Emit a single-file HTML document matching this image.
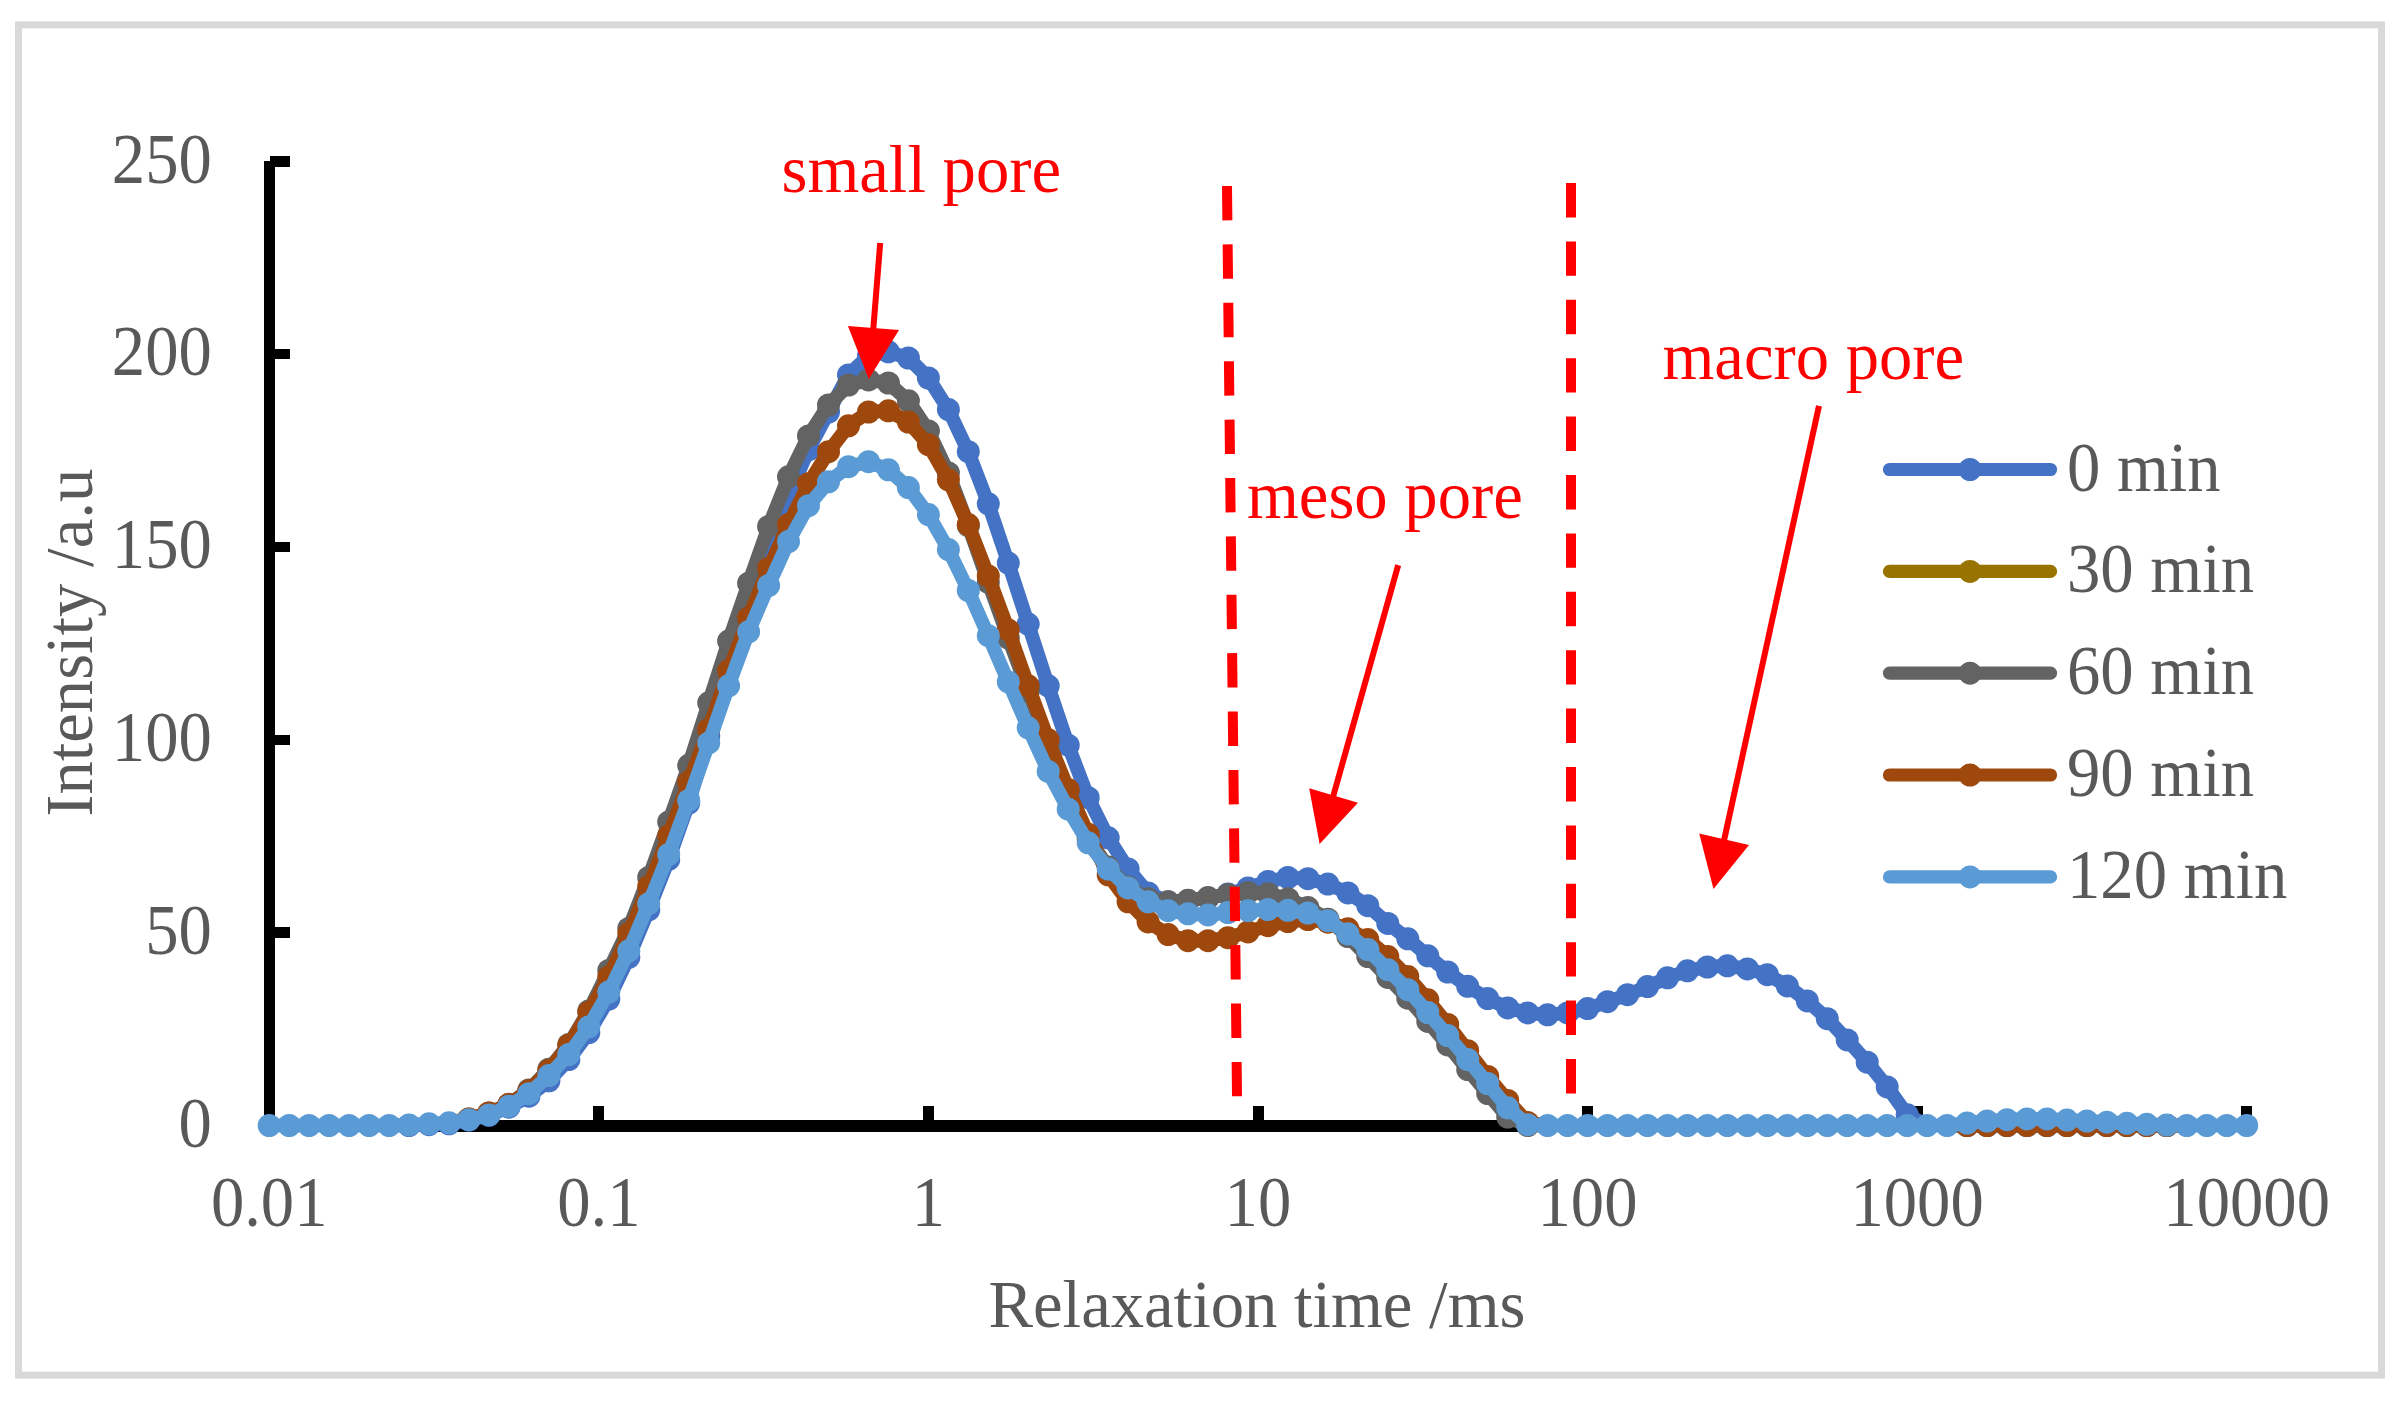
<!DOCTYPE html>
<html lang="en">
<head>
<meta charset="utf-8">
<title>T2 relaxation time distribution</title>
<style>
html,body{margin:0;padding:0;background:#fff;}
body{width:2407px;height:1408px;overflow:hidden;}
svg{display:block;}
text{font-family:"Liberation Serif","Times New Roman",serif;font-size:66.67px;}
.ax{fill:#595959;}
.red{fill:#FF0000;}
</style>
</head>
<body>
<svg width="2407" height="1408" viewBox="0 0 2407 1408">
<rect x="0" y="0" width="2407" height="1408" fill="#ffffff"/>
<rect x="18.5" y="24.9" width="2363" height="1350.2" fill="#ffffff" stroke="#D9D9D9" stroke-width="7"/>

<g fill="#000000" shape-rendering="crispEdges">
<rect x="264" y="161" width="11" height="970.3"/>
<rect x="264" y="1120" width="1982.5" height="11.5"/>
<rect x="269.5" y="1120.2" width="20" height="10.6"/>
<rect x="269.5" y="927.4" width="20" height="10.6"/>
<rect x="269.5" y="734.5" width="20" height="10.6"/>
<rect x="269.5" y="541.6" width="20" height="10.6"/>
<rect x="269.5" y="348.8" width="20" height="10.6"/>
<rect x="269.5" y="155.9" width="20" height="10.6"/>
<rect x="263.8" y="1106" width="11" height="19.5"/>
<rect x="593.4" y="1106" width="11" height="19.5"/>
<rect x="923.0" y="1106" width="11" height="19.5"/>
<rect x="1252.5" y="1106" width="11" height="19.5"/>
<rect x="1582.1" y="1106" width="11" height="19.5"/>
<rect x="1911.7" y="1106" width="11" height="19.5"/>
<rect x="2241.3" y="1106" width="11" height="19.5"/>
</g>
<g class="ax" text-anchor="end">
<text transform="translate(211.8,1146.8) scale(1,1.065)">0</text>
<text transform="translate(211.8,953.9) scale(1,1.065)">50</text>
<text transform="translate(211.8,761.1) scale(1,1.065)">100</text>
<text transform="translate(211.8,568.2) scale(1,1.065)">150</text>
<text transform="translate(211.8,375.4) scale(1,1.065)">200</text>
<text transform="translate(211.8,182.6) scale(1,1.065)">250</text>
</g>
<g class="ax" text-anchor="middle">
<text transform="translate(269.2,1225.7) scale(1,1.065)">0.01</text>
<text transform="translate(598.8,1225.7) scale(1,1.065)">0.1</text>
<text transform="translate(928.4,1225.7) scale(1,1.065)">1</text>
<text transform="translate(1257.9,1225.7) scale(1,1.065)">10</text>
<text transform="translate(1587.5,1225.7) scale(1,1.065)">100</text>
<text transform="translate(1917.1,1225.7) scale(1,1.065)">1000</text>
<text transform="translate(2246.7,1225.7) scale(1,1.065)">10000</text>
<text x="1257" y="1326.7">Relaxation time /ms</text>
<text transform="translate(92.4,642.8) rotate(-90)" x="0" y="0">Intensity /a.u</text>
</g>
<g fill="#4472C4" stroke="none">
<polyline points="389.1,1125.5 409.0,1125.5 429.0,1124.7 449.0,1123.8 468.9,1120.1 488.9,1115.3 508.9,1107.2 528.9,1096.2 548.9,1080.8 568.8,1059.5 588.8,1032.5 608.8,999.0 628.8,957.3 648.7,909.9 668.7,859.4 688.7,803.1 708.7,735.9 728.6,670.4 748.6,604.8 768.6,543.1 788.5,495.7 808.5,449.8 828.5,412.0 848.5,374.9 868.5,356.0 888.4,351.8 908.4,358.0 928.4,378.0 948.4,409.6 968.3,451.7 988.3,503.8 1008.3,563.1 1028.2,624.1 1048.2,685.8 1068.2,745.2 1088.2,797.7 1108.2,837.8 1128.1,869.0 1148.1,892.9 1168.1,901.8 1188.0,900.6 1208.0,897.9 1228.0,894.1 1248.0,887.9 1268.0,881.4 1287.9,877.5 1307.9,878.7 1327.9,884.1 1347.9,892.9 1367.8,905.7 1387.8,923.4 1407.8,938.8 1427.8,955.8 1447.7,972.0 1467.7,986.3 1487.7,998.6 1507.7,1007.9 1527.6,1012.9 1547.6,1014.8 1567.6,1012.9 1587.6,1008.6 1607.5,1001.7 1627.5,994.7 1647.5,986.6 1667.5,977.8 1687.4,970.8 1707.4,967.0 1727.4,965.8 1747.4,968.9 1767.3,974.7 1787.3,985.9 1807.3,1000.9 1827.3,1018.7 1847.2,1039.9 1867.2,1062.2 1887.2,1086.9 1907.2,1114.7 1927.1,1125.5" fill="none" stroke="#4472C4" stroke-width="13.9" stroke-linejoin="round" stroke-linecap="round"/>
<polyline points="1947.1,1125.5 1967.1,1125.5 1987.1,1125.5 2007.0,1125.5 2027.0,1125.5 2047.0,1125.5 2067.0,1125.5 2086.9,1125.5 2106.9,1125.5 2126.9,1125.5 2146.8,1125.5 2166.8,1125.5 2186.8,1125.5" fill="none" stroke="#4472C4" stroke-width="13.9" stroke-linejoin="round" stroke-linecap="round"/>
<circle cx="409.0" cy="1125.5" r="11.5"/>
<circle cx="429.0" cy="1124.7" r="11.5"/>
<circle cx="449.0" cy="1123.8" r="11.5"/>
<circle cx="468.9" cy="1120.1" r="11.5"/>
<circle cx="488.9" cy="1115.3" r="11.5"/>
<circle cx="508.9" cy="1107.2" r="11.5"/>
<circle cx="528.9" cy="1096.2" r="11.5"/>
<circle cx="548.9" cy="1080.8" r="11.5"/>
<circle cx="568.8" cy="1059.5" r="11.5"/>
<circle cx="588.8" cy="1032.5" r="11.5"/>
<circle cx="608.8" cy="999.0" r="11.5"/>
<circle cx="628.8" cy="957.3" r="11.5"/>
<circle cx="648.7" cy="909.9" r="11.5"/>
<circle cx="668.7" cy="859.4" r="11.5"/>
<circle cx="688.7" cy="803.1" r="11.5"/>
<circle cx="708.7" cy="735.9" r="11.5"/>
<circle cx="728.6" cy="670.4" r="11.5"/>
<circle cx="748.6" cy="604.8" r="11.5"/>
<circle cx="768.6" cy="543.1" r="11.5"/>
<circle cx="788.5" cy="495.7" r="11.5"/>
<circle cx="808.5" cy="449.8" r="11.5"/>
<circle cx="828.5" cy="412.0" r="11.5"/>
<circle cx="848.5" cy="374.9" r="11.5"/>
<circle cx="868.5" cy="356.0" r="11.5"/>
<circle cx="888.4" cy="351.8" r="11.5"/>
<circle cx="908.4" cy="358.0" r="11.5"/>
<circle cx="928.4" cy="378.0" r="11.5"/>
<circle cx="948.4" cy="409.6" r="11.5"/>
<circle cx="968.3" cy="451.7" r="11.5"/>
<circle cx="988.3" cy="503.8" r="11.5"/>
<circle cx="1008.3" cy="563.1" r="11.5"/>
<circle cx="1028.2" cy="624.1" r="11.5"/>
<circle cx="1048.2" cy="685.8" r="11.5"/>
<circle cx="1068.2" cy="745.2" r="11.5"/>
<circle cx="1088.2" cy="797.7" r="11.5"/>
<circle cx="1108.2" cy="837.8" r="11.5"/>
<circle cx="1128.1" cy="869.0" r="11.5"/>
<circle cx="1148.1" cy="892.9" r="11.5"/>
<circle cx="1168.1" cy="901.8" r="11.5"/>
<circle cx="1188.0" cy="900.6" r="11.5"/>
<circle cx="1208.0" cy="897.9" r="11.5"/>
<circle cx="1228.0" cy="894.1" r="11.5"/>
<circle cx="1248.0" cy="887.9" r="11.5"/>
<circle cx="1268.0" cy="881.4" r="11.5"/>
<circle cx="1287.9" cy="877.5" r="11.5"/>
<circle cx="1307.9" cy="878.7" r="11.5"/>
<circle cx="1327.9" cy="884.1" r="11.5"/>
<circle cx="1347.9" cy="892.9" r="11.5"/>
<circle cx="1367.8" cy="905.7" r="11.5"/>
<circle cx="1387.8" cy="923.4" r="11.5"/>
<circle cx="1407.8" cy="938.8" r="11.5"/>
<circle cx="1427.8" cy="955.8" r="11.5"/>
<circle cx="1447.7" cy="972.0" r="11.5"/>
<circle cx="1467.7" cy="986.3" r="11.5"/>
<circle cx="1487.7" cy="998.6" r="11.5"/>
<circle cx="1507.7" cy="1007.9" r="11.5"/>
<circle cx="1527.6" cy="1012.9" r="11.5"/>
<circle cx="1547.6" cy="1014.8" r="11.5"/>
<circle cx="1567.6" cy="1012.9" r="11.5"/>
<circle cx="1587.6" cy="1008.6" r="11.5"/>
<circle cx="1607.5" cy="1001.7" r="11.5"/>
<circle cx="1627.5" cy="994.7" r="11.5"/>
<circle cx="1647.5" cy="986.6" r="11.5"/>
<circle cx="1667.5" cy="977.8" r="11.5"/>
<circle cx="1687.4" cy="970.8" r="11.5"/>
<circle cx="1707.4" cy="967.0" r="11.5"/>
<circle cx="1727.4" cy="965.8" r="11.5"/>
<circle cx="1747.4" cy="968.9" r="11.5"/>
<circle cx="1767.3" cy="974.7" r="11.5"/>
<circle cx="1787.3" cy="985.9" r="11.5"/>
<circle cx="1807.3" cy="1000.9" r="11.5"/>
<circle cx="1827.3" cy="1018.7" r="11.5"/>
<circle cx="1847.2" cy="1039.9" r="11.5"/>
<circle cx="1867.2" cy="1062.2" r="11.5"/>
<circle cx="1887.2" cy="1086.9" r="11.5"/>
<circle cx="1907.2" cy="1114.7" r="11.5"/>
<circle cx="1967.1" cy="1125.5" r="11.5"/>
<circle cx="1987.1" cy="1125.5" r="11.5"/>
<circle cx="2007.0" cy="1125.5" r="11.5"/>
<circle cx="2027.0" cy="1125.5" r="11.5"/>
<circle cx="2047.0" cy="1125.5" r="11.5"/>
<circle cx="2067.0" cy="1125.5" r="11.5"/>
<circle cx="2086.9" cy="1125.5" r="11.5"/>
<circle cx="2106.9" cy="1125.5" r="11.5"/>
<circle cx="2126.9" cy="1125.5" r="11.5"/>
<circle cx="2146.8" cy="1125.5" r="11.5"/>
<circle cx="2166.8" cy="1125.5" r="11.5"/>
</g>
<g fill="#997300" stroke="none">
<polyline points="449.0,1122.6 468.9,1118.9 488.9,1113.0 508.9,1104.3 528.9,1090.0 548.9,1069.2 568.8,1044.5 588.8,1010.9 608.8,970.4 628.8,928.4 648.7,877.5 668.7,822.0 688.7,765.3 708.7,702.8 728.6,641.1 748.6,583.2 768.6,526.5 788.5,476.8 808.5,435.9 828.5,405.0 848.5,385.0 868.5,379.9 888.4,383.0 908.4,400.8 928.4,430.9 948.4,472.9 968.3,525.7 988.3,582.4 1008.3,638.0 1028.2,691.6 1048.2,743.7 1068.2,791.9 1088.2,838.2 1108.2,867.1 1128.1,887.1 1148.1,898.7 1168.1,901.8 1188.0,900.3 1208.0,897.6 1228.0,894.5 1248.0,892.5 1268.0,893.7 1287.9,898.7 1307.9,907.6 1327.9,919.2 1347.9,936.5 1367.8,956.6 1387.8,977.4 1407.8,998.2 1427.8,1021.4 1447.7,1044.9 1467.7,1069.6 1487.7,1093.5 1507.7,1117.0 1527.6,1125.5 1547.6,1125.5" fill="none" stroke="#997300" stroke-width="10.9" stroke-linejoin="round" stroke-linecap="round"/>
<polyline points="1947.1,1125.5 1967.1,1125.5 1987.1,1125.5 2007.0,1125.5 2027.0,1125.5 2047.0,1125.5 2067.0,1125.5 2086.9,1125.5 2106.9,1125.5 2126.9,1125.5 2146.8,1125.5 2166.8,1125.5 2186.8,1125.5" fill="none" stroke="#997300" stroke-width="10.9" stroke-linejoin="round" stroke-linecap="round"/>
<circle cx="468.9" cy="1118.9" r="9.9"/>
<circle cx="488.9" cy="1113.0" r="9.9"/>
<circle cx="508.9" cy="1104.3" r="9.9"/>
<circle cx="528.9" cy="1090.0" r="9.9"/>
<circle cx="548.9" cy="1069.2" r="9.9"/>
<circle cx="568.8" cy="1044.5" r="9.9"/>
<circle cx="588.8" cy="1010.9" r="9.9"/>
<circle cx="608.8" cy="970.4" r="9.9"/>
<circle cx="628.8" cy="928.4" r="9.9"/>
<circle cx="648.7" cy="877.5" r="9.9"/>
<circle cx="668.7" cy="822.0" r="9.9"/>
<circle cx="688.7" cy="765.3" r="9.9"/>
<circle cx="708.7" cy="702.8" r="9.9"/>
<circle cx="728.6" cy="641.1" r="9.9"/>
<circle cx="748.6" cy="583.2" r="9.9"/>
<circle cx="768.6" cy="526.5" r="9.9"/>
<circle cx="788.5" cy="476.8" r="9.9"/>
<circle cx="808.5" cy="435.9" r="9.9"/>
<circle cx="828.5" cy="405.0" r="9.9"/>
<circle cx="848.5" cy="385.0" r="9.9"/>
<circle cx="868.5" cy="379.9" r="9.9"/>
<circle cx="888.4" cy="383.0" r="9.9"/>
<circle cx="908.4" cy="400.8" r="9.9"/>
<circle cx="928.4" cy="430.9" r="9.9"/>
<circle cx="948.4" cy="472.9" r="9.9"/>
<circle cx="968.3" cy="525.7" r="9.9"/>
<circle cx="988.3" cy="582.4" r="9.9"/>
<circle cx="1008.3" cy="638.0" r="9.9"/>
<circle cx="1028.2" cy="691.6" r="9.9"/>
<circle cx="1048.2" cy="743.7" r="9.9"/>
<circle cx="1068.2" cy="791.9" r="9.9"/>
<circle cx="1088.2" cy="838.2" r="9.9"/>
<circle cx="1108.2" cy="867.1" r="9.9"/>
<circle cx="1128.1" cy="887.1" r="9.9"/>
<circle cx="1148.1" cy="898.7" r="9.9"/>
<circle cx="1168.1" cy="901.8" r="9.9"/>
<circle cx="1188.0" cy="900.3" r="9.9"/>
<circle cx="1208.0" cy="897.6" r="9.9"/>
<circle cx="1228.0" cy="894.5" r="9.9"/>
<circle cx="1248.0" cy="892.5" r="9.9"/>
<circle cx="1268.0" cy="893.7" r="9.9"/>
<circle cx="1287.9" cy="898.7" r="9.9"/>
<circle cx="1307.9" cy="907.6" r="9.9"/>
<circle cx="1327.9" cy="919.2" r="9.9"/>
<circle cx="1347.9" cy="936.5" r="9.9"/>
<circle cx="1367.8" cy="956.6" r="9.9"/>
<circle cx="1387.8" cy="977.4" r="9.9"/>
<circle cx="1407.8" cy="998.2" r="9.9"/>
<circle cx="1427.8" cy="1021.4" r="9.9"/>
<circle cx="1447.7" cy="1044.9" r="9.9"/>
<circle cx="1467.7" cy="1069.6" r="9.9"/>
<circle cx="1487.7" cy="1093.5" r="9.9"/>
<circle cx="1507.7" cy="1117.0" r="9.9"/>
<circle cx="1527.6" cy="1125.5" r="9.9"/>
<circle cx="1967.1" cy="1125.5" r="9.9"/>
<circle cx="1987.1" cy="1125.5" r="9.9"/>
<circle cx="2007.0" cy="1125.5" r="9.9"/>
<circle cx="2027.0" cy="1125.5" r="9.9"/>
<circle cx="2047.0" cy="1125.5" r="9.9"/>
<circle cx="2067.0" cy="1125.5" r="9.9"/>
<circle cx="2086.9" cy="1125.5" r="9.9"/>
<circle cx="2106.9" cy="1125.5" r="9.9"/>
<circle cx="2126.9" cy="1125.5" r="9.9"/>
<circle cx="2146.8" cy="1125.5" r="9.9"/>
<circle cx="2166.8" cy="1125.5" r="9.9"/>
</g>
<g fill="#636363" stroke="none">
<polyline points="449.0,1122.6 468.9,1118.9 488.9,1113.0 508.9,1104.3 528.9,1090.0 548.9,1069.2 568.8,1044.5 588.8,1010.9 608.8,970.4 628.8,928.4 648.7,877.5 668.7,822.0 688.7,765.3 708.7,702.8 728.6,641.1 748.6,583.2 768.6,526.5 788.5,476.8 808.5,435.9 828.5,405.0 848.5,385.0 868.5,379.9 888.4,383.0 908.4,400.8 928.4,430.9 948.4,472.9 968.3,525.7 988.3,582.4 1008.3,638.0 1028.2,691.6 1048.2,743.7 1068.2,791.9 1088.2,838.2 1108.2,867.1 1128.1,887.1 1148.1,898.7 1168.1,901.8 1188.0,900.3 1208.0,897.6 1228.0,894.5 1248.0,892.5 1268.0,893.7 1287.9,898.7 1307.9,907.6 1327.9,919.2 1347.9,936.5 1367.8,956.6 1387.8,977.4 1407.8,998.2 1427.8,1021.4 1447.7,1044.9 1467.7,1069.6 1487.7,1093.5 1507.7,1117.0 1527.6,1125.5 1547.6,1125.5" fill="none" stroke="#636363" stroke-width="13.9" stroke-linejoin="round" stroke-linecap="round"/>
<polyline points="1947.1,1125.5 1967.1,1125.5 1987.1,1125.5 2007.0,1125.5 2027.0,1125.5 2047.0,1125.5 2067.0,1125.5 2086.9,1125.5 2106.9,1125.5 2126.9,1125.5 2146.8,1125.5 2166.8,1125.5 2186.8,1125.5" fill="none" stroke="#636363" stroke-width="13.9" stroke-linejoin="round" stroke-linecap="round"/>
<circle cx="468.9" cy="1118.9" r="11.5"/>
<circle cx="488.9" cy="1113.0" r="11.5"/>
<circle cx="508.9" cy="1104.3" r="11.5"/>
<circle cx="528.9" cy="1090.0" r="11.5"/>
<circle cx="548.9" cy="1069.2" r="11.5"/>
<circle cx="568.8" cy="1044.5" r="11.5"/>
<circle cx="588.8" cy="1010.9" r="11.5"/>
<circle cx="608.8" cy="970.4" r="11.5"/>
<circle cx="628.8" cy="928.4" r="11.5"/>
<circle cx="648.7" cy="877.5" r="11.5"/>
<circle cx="668.7" cy="822.0" r="11.5"/>
<circle cx="688.7" cy="765.3" r="11.5"/>
<circle cx="708.7" cy="702.8" r="11.5"/>
<circle cx="728.6" cy="641.1" r="11.5"/>
<circle cx="748.6" cy="583.2" r="11.5"/>
<circle cx="768.6" cy="526.5" r="11.5"/>
<circle cx="788.5" cy="476.8" r="11.5"/>
<circle cx="808.5" cy="435.9" r="11.5"/>
<circle cx="828.5" cy="405.0" r="11.5"/>
<circle cx="848.5" cy="385.0" r="11.5"/>
<circle cx="868.5" cy="379.9" r="11.5"/>
<circle cx="888.4" cy="383.0" r="11.5"/>
<circle cx="908.4" cy="400.8" r="11.5"/>
<circle cx="928.4" cy="430.9" r="11.5"/>
<circle cx="948.4" cy="472.9" r="11.5"/>
<circle cx="968.3" cy="525.7" r="11.5"/>
<circle cx="988.3" cy="582.4" r="11.5"/>
<circle cx="1008.3" cy="638.0" r="11.5"/>
<circle cx="1028.2" cy="691.6" r="11.5"/>
<circle cx="1048.2" cy="743.7" r="11.5"/>
<circle cx="1068.2" cy="791.9" r="11.5"/>
<circle cx="1088.2" cy="838.2" r="11.5"/>
<circle cx="1108.2" cy="867.1" r="11.5"/>
<circle cx="1128.1" cy="887.1" r="11.5"/>
<circle cx="1148.1" cy="898.7" r="11.5"/>
<circle cx="1168.1" cy="901.8" r="11.5"/>
<circle cx="1188.0" cy="900.3" r="11.5"/>
<circle cx="1208.0" cy="897.6" r="11.5"/>
<circle cx="1228.0" cy="894.5" r="11.5"/>
<circle cx="1248.0" cy="892.5" r="11.5"/>
<circle cx="1268.0" cy="893.7" r="11.5"/>
<circle cx="1287.9" cy="898.7" r="11.5"/>
<circle cx="1307.9" cy="907.6" r="11.5"/>
<circle cx="1327.9" cy="919.2" r="11.5"/>
<circle cx="1347.9" cy="936.5" r="11.5"/>
<circle cx="1367.8" cy="956.6" r="11.5"/>
<circle cx="1387.8" cy="977.4" r="11.5"/>
<circle cx="1407.8" cy="998.2" r="11.5"/>
<circle cx="1427.8" cy="1021.4" r="11.5"/>
<circle cx="1447.7" cy="1044.9" r="11.5"/>
<circle cx="1467.7" cy="1069.6" r="11.5"/>
<circle cx="1487.7" cy="1093.5" r="11.5"/>
<circle cx="1507.7" cy="1117.0" r="11.5"/>
<circle cx="1527.6" cy="1125.5" r="11.5"/>
<circle cx="1967.1" cy="1125.5" r="11.5"/>
<circle cx="1987.1" cy="1125.5" r="11.5"/>
<circle cx="2007.0" cy="1125.5" r="11.5"/>
<circle cx="2027.0" cy="1125.5" r="11.5"/>
<circle cx="2047.0" cy="1125.5" r="11.5"/>
<circle cx="2067.0" cy="1125.5" r="11.5"/>
<circle cx="2086.9" cy="1125.5" r="11.5"/>
<circle cx="2106.9" cy="1125.5" r="11.5"/>
<circle cx="2126.9" cy="1125.5" r="11.5"/>
<circle cx="2146.8" cy="1125.5" r="11.5"/>
<circle cx="2166.8" cy="1125.5" r="11.5"/>
</g>
<g fill="#9E480E" stroke="none">
<polyline points="449.0,1122.6 468.9,1118.9 488.9,1113.0 508.9,1104.5 528.9,1090.8 548.9,1070.3 568.8,1045.3 588.8,1012.5 608.8,977.0 628.8,933.8 648.7,886.4 668.7,835.8 688.7,782.2 708.7,729.4 728.6,670.8 748.6,617.9 768.6,568.5 788.5,524.6 808.5,483.7 828.5,451.7 848.5,425.8 868.5,412.0 888.4,410.8 908.4,422.0 928.4,444.7 948.4,479.8 968.3,524.6 988.3,575.9 1008.3,629.9 1028.2,685.8 1048.2,739.8 1068.2,789.6 1088.2,834.3 1108.2,874.8 1128.1,901.8 1148.1,921.9 1168.1,934.6 1188.0,940.7 1208.0,940.7 1228.0,937.7 1248.0,931.9 1268.0,925.7 1287.9,921.5 1307.9,919.5 1327.9,922.2 1347.9,928.8 1367.8,939.6 1387.8,956.6 1407.8,976.6 1427.8,999.8 1447.7,1024.4 1467.7,1050.7 1487.7,1076.5 1507.7,1100.4 1527.6,1122.4 1547.6,1125.5" fill="none" stroke="#9E480E" stroke-width="13.9" stroke-linejoin="round" stroke-linecap="round"/>
<polyline points="1947.1,1125.5 1967.1,1125.5 1987.1,1125.5 2007.0,1125.5 2027.0,1125.5 2047.0,1125.5 2067.0,1125.5 2086.9,1125.5 2106.9,1125.5 2126.9,1125.5 2146.8,1125.5 2166.8,1125.5 2186.8,1125.5" fill="none" stroke="#9E480E" stroke-width="13.9" stroke-linejoin="round" stroke-linecap="round"/>
<circle cx="468.9" cy="1118.9" r="11.5"/>
<circle cx="488.9" cy="1113.0" r="11.5"/>
<circle cx="508.9" cy="1104.5" r="11.5"/>
<circle cx="528.9" cy="1090.8" r="11.5"/>
<circle cx="548.9" cy="1070.3" r="11.5"/>
<circle cx="568.8" cy="1045.3" r="11.5"/>
<circle cx="588.8" cy="1012.5" r="11.5"/>
<circle cx="608.8" cy="977.0" r="11.5"/>
<circle cx="628.8" cy="933.8" r="11.5"/>
<circle cx="648.7" cy="886.4" r="11.5"/>
<circle cx="668.7" cy="835.8" r="11.5"/>
<circle cx="688.7" cy="782.2" r="11.5"/>
<circle cx="708.7" cy="729.4" r="11.5"/>
<circle cx="728.6" cy="670.8" r="11.5"/>
<circle cx="748.6" cy="617.9" r="11.5"/>
<circle cx="768.6" cy="568.5" r="11.5"/>
<circle cx="788.5" cy="524.6" r="11.5"/>
<circle cx="808.5" cy="483.7" r="11.5"/>
<circle cx="828.5" cy="451.7" r="11.5"/>
<circle cx="848.5" cy="425.8" r="11.5"/>
<circle cx="868.5" cy="412.0" r="11.5"/>
<circle cx="888.4" cy="410.8" r="11.5"/>
<circle cx="908.4" cy="422.0" r="11.5"/>
<circle cx="928.4" cy="444.7" r="11.5"/>
<circle cx="948.4" cy="479.8" r="11.5"/>
<circle cx="968.3" cy="524.6" r="11.5"/>
<circle cx="988.3" cy="575.9" r="11.5"/>
<circle cx="1008.3" cy="629.9" r="11.5"/>
<circle cx="1028.2" cy="685.8" r="11.5"/>
<circle cx="1048.2" cy="739.8" r="11.5"/>
<circle cx="1068.2" cy="789.6" r="11.5"/>
<circle cx="1088.2" cy="834.3" r="11.5"/>
<circle cx="1108.2" cy="874.8" r="11.5"/>
<circle cx="1128.1" cy="901.8" r="11.5"/>
<circle cx="1148.1" cy="921.9" r="11.5"/>
<circle cx="1168.1" cy="934.6" r="11.5"/>
<circle cx="1188.0" cy="940.7" r="11.5"/>
<circle cx="1208.0" cy="940.7" r="11.5"/>
<circle cx="1228.0" cy="937.7" r="11.5"/>
<circle cx="1248.0" cy="931.9" r="11.5"/>
<circle cx="1268.0" cy="925.7" r="11.5"/>
<circle cx="1287.9" cy="921.5" r="11.5"/>
<circle cx="1307.9" cy="919.5" r="11.5"/>
<circle cx="1327.9" cy="922.2" r="11.5"/>
<circle cx="1347.9" cy="928.8" r="11.5"/>
<circle cx="1367.8" cy="939.6" r="11.5"/>
<circle cx="1387.8" cy="956.6" r="11.5"/>
<circle cx="1407.8" cy="976.6" r="11.5"/>
<circle cx="1427.8" cy="999.8" r="11.5"/>
<circle cx="1447.7" cy="1024.4" r="11.5"/>
<circle cx="1467.7" cy="1050.7" r="11.5"/>
<circle cx="1487.7" cy="1076.5" r="11.5"/>
<circle cx="1507.7" cy="1100.4" r="11.5"/>
<circle cx="1527.6" cy="1122.4" r="11.5"/>
<circle cx="1967.1" cy="1125.5" r="11.5"/>
<circle cx="1987.1" cy="1125.5" r="11.5"/>
<circle cx="2007.0" cy="1125.5" r="11.5"/>
<circle cx="2027.0" cy="1125.5" r="11.5"/>
<circle cx="2047.0" cy="1125.5" r="11.5"/>
<circle cx="2067.0" cy="1125.5" r="11.5"/>
<circle cx="2086.9" cy="1125.5" r="11.5"/>
<circle cx="2106.9" cy="1125.5" r="11.5"/>
<circle cx="2126.9" cy="1125.5" r="11.5"/>
<circle cx="2146.8" cy="1125.5" r="11.5"/>
<circle cx="2166.8" cy="1125.5" r="11.5"/>
</g>
<g fill="#5B9BD5" stroke="none">
<polyline points="269.2,1125.5 289.2,1125.5 309.1,1125.5 329.1,1125.5 349.1,1125.5 369.1,1125.5 389.1,1125.5 409.0,1124.9 429.0,1123.8 449.0,1122.8 468.9,1119.7 488.9,1114.9 508.9,1106.2 528.9,1093.7 548.9,1075.6 568.8,1054.5 588.8,1026.8 608.8,992.0 628.8,950.8 648.7,903.7 668.7,854.4 688.7,800.4 708.7,742.9 728.6,685.8 748.6,631.8 768.6,585.5 788.5,541.6 808.5,505.7 828.5,481.8 848.5,466.7 868.5,461.7 888.4,469.8 908.4,487.6 928.4,514.6 948.4,549.6 968.3,590.5 988.3,635.7 1008.3,681.9 1028.2,727.8 1048.2,771.4 1068.2,809.2 1088.2,842.8 1108.2,869.0 1128.1,887.9 1148.1,901.8 1168.1,910.7 1188.0,913.8 1208.0,914.9 1228.0,912.6 1248.0,910.7 1268.0,909.5 1287.9,910.3 1307.9,913.0 1327.9,920.7 1347.9,933.8 1367.8,949.6 1387.8,969.7 1407.8,989.7 1427.8,1012.5 1447.7,1035.6 1467.7,1059.5 1487.7,1083.5 1507.7,1107.8 1527.6,1124.7 1547.6,1125.5 1567.6,1125.5 1587.6,1125.5 1607.5,1125.5 1627.5,1125.5 1647.5,1125.5 1667.5,1125.5 1687.4,1125.5 1707.4,1125.5 1727.4,1125.5 1747.4,1125.5 1767.3,1125.5 1787.3,1125.5 1807.3,1125.5 1827.3,1125.5 1847.2,1125.5 1867.2,1125.5 1887.2,1125.5 1907.2,1125.5 1927.1,1125.5 1947.1,1125.5 1967.1,1123.0 1987.1,1121.0 2007.0,1119.7 2027.0,1118.9 2047.0,1118.9 2067.0,1120.1 2086.9,1121.0 2106.9,1122.2 2126.9,1123.3 2146.8,1124.3 2166.8,1125.1 2186.8,1125.5 2206.8,1125.5 2226.8,1125.5 2246.7,1125.5" fill="none" stroke="#5B9BD5" stroke-width="13.9" stroke-linejoin="round" stroke-linecap="round"/>
<circle cx="269.2" cy="1125.5" r="11.5"/>
<circle cx="289.2" cy="1125.5" r="11.5"/>
<circle cx="309.1" cy="1125.5" r="11.5"/>
<circle cx="329.1" cy="1125.5" r="11.5"/>
<circle cx="349.1" cy="1125.5" r="11.5"/>
<circle cx="369.1" cy="1125.5" r="11.5"/>
<circle cx="389.1" cy="1125.5" r="11.5"/>
<circle cx="409.0" cy="1124.9" r="11.5"/>
<circle cx="429.0" cy="1123.8" r="11.5"/>
<circle cx="449.0" cy="1122.8" r="11.5"/>
<circle cx="468.9" cy="1119.7" r="11.5"/>
<circle cx="488.9" cy="1114.9" r="11.5"/>
<circle cx="508.9" cy="1106.2" r="11.5"/>
<circle cx="528.9" cy="1093.7" r="11.5"/>
<circle cx="548.9" cy="1075.6" r="11.5"/>
<circle cx="568.8" cy="1054.5" r="11.5"/>
<circle cx="588.8" cy="1026.8" r="11.5"/>
<circle cx="608.8" cy="992.0" r="11.5"/>
<circle cx="628.8" cy="950.8" r="11.5"/>
<circle cx="648.7" cy="903.7" r="11.5"/>
<circle cx="668.7" cy="854.4" r="11.5"/>
<circle cx="688.7" cy="800.4" r="11.5"/>
<circle cx="708.7" cy="742.9" r="11.5"/>
<circle cx="728.6" cy="685.8" r="11.5"/>
<circle cx="748.6" cy="631.8" r="11.5"/>
<circle cx="768.6" cy="585.5" r="11.5"/>
<circle cx="788.5" cy="541.6" r="11.5"/>
<circle cx="808.5" cy="505.7" r="11.5"/>
<circle cx="828.5" cy="481.8" r="11.5"/>
<circle cx="848.5" cy="466.7" r="11.5"/>
<circle cx="868.5" cy="461.7" r="11.5"/>
<circle cx="888.4" cy="469.8" r="11.5"/>
<circle cx="908.4" cy="487.6" r="11.5"/>
<circle cx="928.4" cy="514.6" r="11.5"/>
<circle cx="948.4" cy="549.6" r="11.5"/>
<circle cx="968.3" cy="590.5" r="11.5"/>
<circle cx="988.3" cy="635.7" r="11.5"/>
<circle cx="1008.3" cy="681.9" r="11.5"/>
<circle cx="1028.2" cy="727.8" r="11.5"/>
<circle cx="1048.2" cy="771.4" r="11.5"/>
<circle cx="1068.2" cy="809.2" r="11.5"/>
<circle cx="1088.2" cy="842.8" r="11.5"/>
<circle cx="1108.2" cy="869.0" r="11.5"/>
<circle cx="1128.1" cy="887.9" r="11.5"/>
<circle cx="1148.1" cy="901.8" r="11.5"/>
<circle cx="1168.1" cy="910.7" r="11.5"/>
<circle cx="1188.0" cy="913.8" r="11.5"/>
<circle cx="1208.0" cy="914.9" r="11.5"/>
<circle cx="1228.0" cy="912.6" r="11.5"/>
<circle cx="1248.0" cy="910.7" r="11.5"/>
<circle cx="1268.0" cy="909.5" r="11.5"/>
<circle cx="1287.9" cy="910.3" r="11.5"/>
<circle cx="1307.9" cy="913.0" r="11.5"/>
<circle cx="1327.9" cy="920.7" r="11.5"/>
<circle cx="1347.9" cy="933.8" r="11.5"/>
<circle cx="1367.8" cy="949.6" r="11.5"/>
<circle cx="1387.8" cy="969.7" r="11.5"/>
<circle cx="1407.8" cy="989.7" r="11.5"/>
<circle cx="1427.8" cy="1012.5" r="11.5"/>
<circle cx="1447.7" cy="1035.6" r="11.5"/>
<circle cx="1467.7" cy="1059.5" r="11.5"/>
<circle cx="1487.7" cy="1083.5" r="11.5"/>
<circle cx="1507.7" cy="1107.8" r="11.5"/>
<circle cx="1527.6" cy="1124.7" r="11.5"/>
<circle cx="1547.6" cy="1125.5" r="11.5"/>
<circle cx="1567.6" cy="1125.5" r="11.5"/>
<circle cx="1587.6" cy="1125.5" r="11.5"/>
<circle cx="1607.5" cy="1125.5" r="11.5"/>
<circle cx="1627.5" cy="1125.5" r="11.5"/>
<circle cx="1647.5" cy="1125.5" r="11.5"/>
<circle cx="1667.5" cy="1125.5" r="11.5"/>
<circle cx="1687.4" cy="1125.5" r="11.5"/>
<circle cx="1707.4" cy="1125.5" r="11.5"/>
<circle cx="1727.4" cy="1125.5" r="11.5"/>
<circle cx="1747.4" cy="1125.5" r="11.5"/>
<circle cx="1767.3" cy="1125.5" r="11.5"/>
<circle cx="1787.3" cy="1125.5" r="11.5"/>
<circle cx="1807.3" cy="1125.5" r="11.5"/>
<circle cx="1827.3" cy="1125.5" r="11.5"/>
<circle cx="1847.2" cy="1125.5" r="11.5"/>
<circle cx="1867.2" cy="1125.5" r="11.5"/>
<circle cx="1887.2" cy="1125.5" r="11.5"/>
<circle cx="1907.2" cy="1125.5" r="11.5"/>
<circle cx="1927.1" cy="1125.5" r="11.5"/>
<circle cx="1947.1" cy="1125.5" r="11.5"/>
<circle cx="1967.1" cy="1123.0" r="11.5"/>
<circle cx="1987.1" cy="1121.0" r="11.5"/>
<circle cx="2007.0" cy="1119.7" r="11.5"/>
<circle cx="2027.0" cy="1118.9" r="11.5"/>
<circle cx="2047.0" cy="1118.9" r="11.5"/>
<circle cx="2067.0" cy="1120.1" r="11.5"/>
<circle cx="2086.9" cy="1121.0" r="11.5"/>
<circle cx="2106.9" cy="1122.2" r="11.5"/>
<circle cx="2126.9" cy="1123.3" r="11.5"/>
<circle cx="2146.8" cy="1124.3" r="11.5"/>
<circle cx="2166.8" cy="1125.1" r="11.5"/>
<circle cx="2186.8" cy="1125.5" r="11.5"/>
<circle cx="2206.8" cy="1125.5" r="11.5"/>
<circle cx="2226.8" cy="1125.5" r="11.5"/>
<circle cx="2246.7" cy="1125.5" r="11.5"/>
</g>
<line x1="1889.5" y1="469.5" x2="2050.5" y2="469.5" stroke="#4472C4" stroke-width="13.2" stroke-linecap="round"/>
<circle cx="1970" cy="469.5" r="11.5" fill="#4472C4"/>
<text class="ax" transform="translate(2067,490.5) scale(1,1.04)">0 min</text>
<line x1="1889.5" y1="571.4" x2="2050.5" y2="571.4" stroke="#997300" stroke-width="13.2" stroke-linecap="round"/>
<circle cx="1970" cy="571.4" r="11.5" fill="#997300"/>
<text class="ax" transform="translate(2067,592.4) scale(1,1.04)">30 min</text>
<line x1="1889.5" y1="673.2" x2="2050.5" y2="673.2" stroke="#636363" stroke-width="13.2" stroke-linecap="round"/>
<circle cx="1970" cy="673.2" r="11.5" fill="#636363"/>
<text class="ax" transform="translate(2067,694.2) scale(1,1.04)">60 min</text>
<line x1="1889.5" y1="775.0" x2="2050.5" y2="775.0" stroke="#9E480E" stroke-width="13.2" stroke-linecap="round"/>
<circle cx="1970" cy="775.0" r="11.5" fill="#9E480E"/>
<text class="ax" transform="translate(2067,796.0) scale(1,1.04)">90 min</text>
<line x1="1889.5" y1="876.9" x2="2050.5" y2="876.9" stroke="#5B9BD5" stroke-width="13.2" stroke-linecap="round"/>
<circle cx="1970" cy="876.9" r="11.5" fill="#5B9BD5"/>
<text class="ax" transform="translate(2067,897.9) scale(1,1.04)">120 min</text>
<g stroke="#FF0000" stroke-width="10" fill="none" stroke-dasharray="34.4 24">
<line x1="1227" y1="186" x2="1237" y2="1096.2"/>
<line x1="1571" y1="183" x2="1571" y2="1093.4"/>
</g>
<g stroke="#FF0000" stroke-width="6" fill="#FF0000">
<line x1="880.2" y1="243" x2="873.2" y2="330"/>
<line x1="1398.2" y1="565.1" x2="1333" y2="797"/>
<line x1="1819" y1="405.8" x2="1724" y2="840.5"/>
</g>
<g fill="#FF0000" stroke="none">
<polygon points="847.9,326.1 899,330 868.8,379"/>
<polygon points="1309.2,788.3 1358,802.7 1319.6,844"/>
<polygon points="1699.2,833.5 1749,845 1713.5,889"/>
</g>
<g class="red">
<text x="781.5" y="191.8">small pore</text>
<text x="1247" y="518.2">meso pore</text>
<text x="1662.5" y="379.4">macro pore</text>
</g>
</svg>
</body>
</html>
